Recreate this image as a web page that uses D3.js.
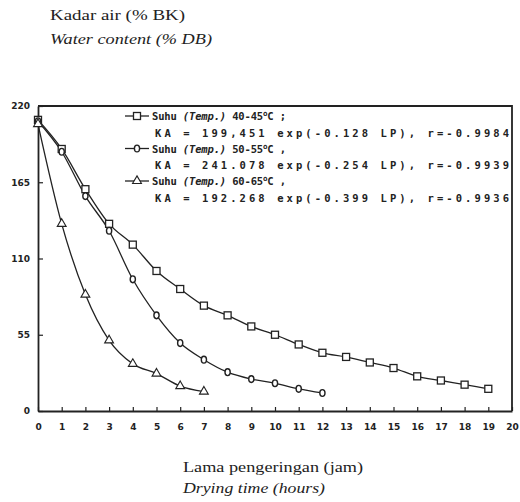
<!DOCTYPE html>
<html>
<head>
<meta charset="utf-8">
<script src="https://cdnjs.cloudflare.com/ajax/libs/d3/7.8.5/d3.min.js"></script>
<style>
  body { margin: 0; background: #fff; }
  .mono { font-family: "DejaVu Sans Mono", monospace; font-weight: bold; fill: #222; }
  .serif { font-family: "Liberation Serif", "Times New Roman", serif; fill: #222; }
</style>
</head>
<body>
<svg id="chart" width="520" height="502"></svg>
<script>
// drying time (hours) for each run
const hours40 = [0,1,2,3,4,5,6,7,8,9,10,11,12,13,14,15,16,17,18,19];
const hours50 = [0,1,2,3,4,5,6,7,8,9,10,11,12];
const hours60 = [0,1,2,3,4,5,6,7];

// water content (% DB)
const temp40 = [210,189,160,135,120,101,88,76,69,61,55,48,42,39,35,31,25,22,19,16];
const temp50 = [209,187,155,130,95,69,49,37,28,23,20,16,13];
const temp60 = [207,135,84,51,34,27,18,14];

const xTicks = [0,1,2,3,4,5,6,7,8,9,10,11,12,13,14,15,16,17,18,19,20];
const yTicks = [0,55,110,165,220];

const ranges = ['40-45', '50-55', '60-65'];
const separators = [';', ',', ','];
const equations = [
    'KA = 199,451 exp(-0.128 LP), r=-0.9984',
    'KA = 241.078 exp(-0.254 LP), r=-0.9939',
    'KA = 192.268 exp(-0.399 LP), r=-0.9936'
];

const svg = d3.select('#chart');
const x = d3.scaleLinear().domain([0, 20]).range([38, 512]);
const y = d3.scaleLinear().domain([0, 220]).range([411, 106]);
const INK = '#222';

// titles
svg.append('text').attr('class', 'serif').attr('x', 50).attr('y', 20)
    .attr('font-size', 15).attr('textLength', 135).attr('lengthAdjust', 'spacingAndGlyphs')
    .text('Kadar air (% BK)');
svg.append('text').attr('class', 'serif').attr('x', 50).attr('y', 44)
    .attr('font-size', 15).attr('font-style', 'italic')
    .attr('textLength', 162).attr('lengthAdjust', 'spacingAndGlyphs')
    .text('Water content (% DB)');
svg.append('text').attr('class', 'serif').attr('x', 183).attr('y', 472)
    .attr('font-size', 15).attr('textLength', 180).attr('lengthAdjust', 'spacingAndGlyphs')
    .text('Lama pengeringan (jam)');
svg.append('text').attr('class', 'serif').attr('x', 183).attr('y', 493)
    .attr('font-size', 15).attr('font-style', 'italic')
    .attr('textLength', 142).attr('lengthAdjust', 'spacingAndGlyphs')
    .text('Drying time (hours)');

// axes
let gx = svg.append('g').attr('transform', `translate(0,${y(0)})`)
    .call(d3.axisBottom(x).tickValues(xTicks).tickSizeInner(-4).tickSizeOuter(0).tickPadding(13));
let gy = svg.append('g').attr('transform', `translate(${x(0)},0)`)
    .call(d3.axisLeft(y).tickValues(yTicks).tickSizeInner(-5).tickSizeOuter(0).tickPadding(8));
[gx, gy].forEach(g => {
    g.select('.domain').attr('stroke', INK).attr('stroke-width', 1.8);
    g.selectAll('.tick line').attr('stroke', INK).attr('stroke-width', 1.2);
    g.selectAll('.tick text').attr('fill', INK)
        .style('font-family', '"DejaVu Sans", sans-serif').style('font-weight', 'bold').style('font-size', '9px');
});

// frame top + right
svg.append('path')
    .attr('d', `M${x(0)},${y(220)}H${x(20)}V${y(0)}`)
    .attr('fill', 'none').attr('stroke', INK).attr('stroke-width', 1.8);

// markers
function square(g, cx, cy) {
    g.append('rect').attr('x', cx - 3.5).attr('y', cy - 3.5).attr('width', 7).attr('height', 7)
        .attr('fill', '#fff').attr('stroke', INK).attr('stroke-width', 1.3);
}
function oval(g, cx, cy) {
    g.append('ellipse').attr('cx', cx).attr('cy', cy).attr('rx', 2.6).attr('ry', 3.4)
        .attr('fill', '#fff').attr('stroke', INK).attr('stroke-width', 1.4);
}
function triangle(g, cx, cy) {
    g.append('path').attr('d', d3.symbol(d3.symbolTriangle, 34)())
        .attr('transform', `translate(${cx},${cy})`)
        .attr('fill', '#fff').attr('stroke', INK).attr('stroke-width', 1.1);
}

const series = [
    {hours: hours40, values: temp40, marker: square},
    {hours: hours50, values: temp50, marker: oval},
    {hours: hours60, values: temp60, marker: triangle}
];

const line = d3.line().curve(d3.curveMonotoneX);
let plot = svg.append('g').attr('class', 'series');
series.forEach(s => {
    let pts = s.values.map((v, i) => [x(s.hours[i]), y(v)]);
    plot.append('path').attr('d', line(pts))
        .attr('fill', 'none').attr('stroke', INK).attr('stroke-width', 1.3);
});
series.forEach(s => {
    s.values.forEach((v, i) => s.marker(plot, x(s.hours[i]), y(v)));
});

// legend
let lg = svg.append('g').attr('class', 'legend');
series.forEach((s, i) => {
    let cy = 116 + i * 32.5;
    lg.append('line').attr('x1', 125).attr('x2', 149).attr('y1', cy).attr('y2', cy)
        .attr('stroke', INK).attr('stroke-width', 1.3);
    s.marker(lg, 137, cy);

    let t = lg.append('text').attr('class', 'mono').attr('x', 152).attr('y', cy + 4)
        .attr('font-size', 10.5).attr('textLength', 134).attr('lengthAdjust', 'spacing');
    t.append('tspan').text('Suhu ');
    t.append('tspan').attr('font-style', 'italic').text('(Temp.)');
    t.append('tspan').text(' ' + ranges[i]);
    t.append('tspan').attr('font-size', 7.5).attr('dy', -4).text('o');
    t.append('tspan').attr('dy', 4).text('C ' + separators[i]);

    lg.append('text').attr('class', 'mono').attr('x', 155).attr('y', cy + 20.5)
        .attr('font-size', 10.5).attr('textLength', 354).attr('lengthAdjust', 'spacing')
        .text(equations[i]);
});
</script>
</body>
</html>
